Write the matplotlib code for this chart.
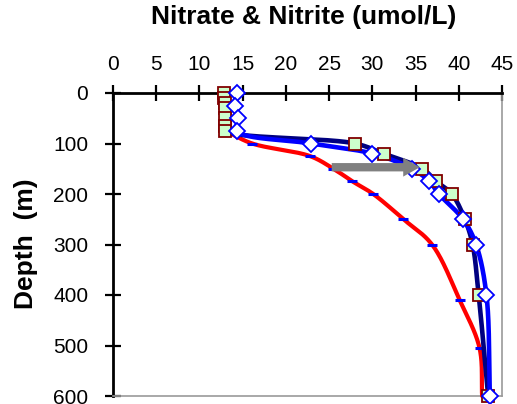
import numpy as np
import matplotlib
matplotlib.use("Agg")
import matplotlib.pyplot as plt

# ---------------- data ----------------
# Series A: squares (dark-red edge, light green fill), navy line
depth_a = [0, 10, 20, 30, 50, 65, 75, 100, 120, 150, 175, 200, 250, 300, 400, 600]
no3_a = [12.8, 12.8, 12.9, 12.9, 13.0, 13.0, 13.0, 28.0, 31.3, 35.8, 37.4, 39.2, 40.7, 41.6, 42.3, 43.4]

# Series B: diamonds (blue edge, white fill), blue line
depth_b = [0, 25, 50, 75, 100, 120, 150, 175, 200, 250, 300, 400, 600]
no3_b = [14.3, 14.1, 14.5, 14.3, 22.9, 30.0, 34.6, 36.6, 37.7, 40.5, 42.0, 43.2, 43.6]

# Series C: red line with blue dash markers
depth_c = [75, 100, 125, 150, 175, 200, 250, 300, 410, 505, 600]
no3_c = [13.0, 16.1, 22.8, 25.5, 27.7, 30.1, 33.6, 36.9, 40.1, 42.4, 42.7]

# Gray arrow (annotation)
arrow_depth = 147
arrow_x_start = 25.3
arrow_x_end = 35.5

x_ticks = [0, 5, 10, 15, 20, 25, 30, 35, 40, 45]
y_ticks = [0, 100, 200, 300, 400, 500, 600]

title = "Nitrate & Nitrite (umol/L)"
ylabel = "Depth  (m)"

XMAX, YMAX = 45, 600
L, R, T, B = 113, 502, 93, 396
W, H = 517, 404
KX = (R - L) / XMAX
KY = (B - T) / YMAX


def smooth(xs, ys, n=40, alpha=0.5):
    """Centripetal Catmull-Rom curve through the points (drawn in pixel-like space)."""
    P = np.column_stack([np.asarray(xs, float) * KX, np.asarray(ys, float) * KY])
    P = np.vstack([2 * P[0] - P[1], P, 2 * P[-1] - P[-2]])
    out = []
    for i in range(1, len(P) - 2):
        p0, p1, p2, p3 = P[i - 1], P[i], P[i + 1], P[i + 2]
        t0 = 0.0
        t1 = t0 + max(np.linalg.norm(p1 - p0), 1e-6) ** alpha
        t2 = t1 + max(np.linalg.norm(p2 - p1), 1e-6) ** alpha
        t3 = t2 + max(np.linalg.norm(p3 - p2), 1e-6) ** alpha
        t = np.linspace(t1, t2, n)[:, None]
        A1 = (t1 - t) / (t1 - t0) * p0 + (t - t0) / (t1 - t0) * p1
        A2 = (t2 - t) / (t2 - t1) * p1 + (t - t1) / (t2 - t1) * p2
        A3 = (t3 - t) / (t3 - t2) * p2 + (t - t2) / (t3 - t2) * p3
        B1 = (t2 - t) / (t2 - t0) * A1 + (t - t0) / (t2 - t0) * A2
        B2 = (t3 - t) / (t3 - t1) * A2 + (t - t1) / (t3 - t1) * A3
        C = (t2 - t) / (t2 - t1) * B1 + (t - t1) / (t2 - t1) * B2
        out.append(C)
    S = np.vstack(out)
    return S[:, 0] / KX, S[:, 1] / KY


plt.rcParams['font.family'] = ['Liberation Sans', 'DejaVu Sans']

fig = plt.figure(figsize=(5.17, 4.04), dpi=100)
ax = fig.add_axes([L / W, 1 - B / H, (R - L) / W, (B - T) / H])

ax.set_xlim(0, XMAX)
ax.set_ylim(YMAX, 0)

# red line
sx, sy = smooth(no3_c, depth_c)
ax.plot(sx, sy, color='#FF0000', lw=3.0, solid_capstyle='round', zorder=3, clip_on=False)
ax.plot(no3_c[:-1], depth_c[:-1], ls='none', marker='_', ms=7, mew=2.2,
        color='#0000FF', zorder=4, clip_on=False)

# navy line
sx, sy = smooth(no3_a, depth_a)
ax.plot(sx, sy, color='#000080', lw=3.3, solid_capstyle='round', zorder=5, clip_on=False)
# blue line
sx, sy = smooth(no3_b, depth_b)
ax.plot(sx, sy, color='#0000FF', lw=3.3, solid_capstyle='round', zorder=5, clip_on=False)

ax.plot(no3_a, depth_a, ls='none', marker='s', ms=8.5, mfc='#CCFFCC', mec='#800000',
        mew=1.3, zorder=6, clip_on=False)
ax.plot(no3_b, depth_b, ls='none', marker='D', ms=7.8, mfc='white', mec='#0000FF',
        mew=1.3, zorder=7, clip_on=False)

# arrow
ax.annotate('', xy=(arrow_x_end, arrow_depth), xytext=(arrow_x_start, arrow_depth),
            arrowprops=dict(facecolor='#808080', edgecolor='none', width=6,
                            headwidth=13.5, headlength=12, shrink=0),
            zorder=8)

# axes styling
ax.xaxis.tick_top()
ax.set_xticks(x_ticks)
ax.set_yticks(y_ticks)
ax.set_xticklabels([str(v) for v in x_ticks])
ax.set_yticklabels([str(v) for v in y_ticks])
ax.tick_params(axis='both', direction='inout', length=11.5, width=1.6,
               labelsize=15, color='black')
ax.tick_params(axis='x', pad=8)
ax.tick_params(axis='y', pad=12)
ax.tick_params(top=True, bottom=False, left=True, right=False)

ax.spines['top'].set_linewidth(2.0)
ax.spines['left'].set_linewidth(2.0)
ax.spines['top'].set_color('black')
ax.spines['left'].set_color('black')
for s in ('bottom', 'right'):
    ax.spines[s].set_color('#999999')
    ax.spines[s].set_linewidth(1.2)

fig.text(304 / W, 1 - 17 / H, title, ha='center', va='center',
         fontsize=19, fontweight='bold')
fig.text(26 / W, 1 - 244 / H, ylabel, ha='center', va='center', rotation=90,
         fontsize=19, fontweight='bold')

fig.savefig('out.png', dpi=100)
